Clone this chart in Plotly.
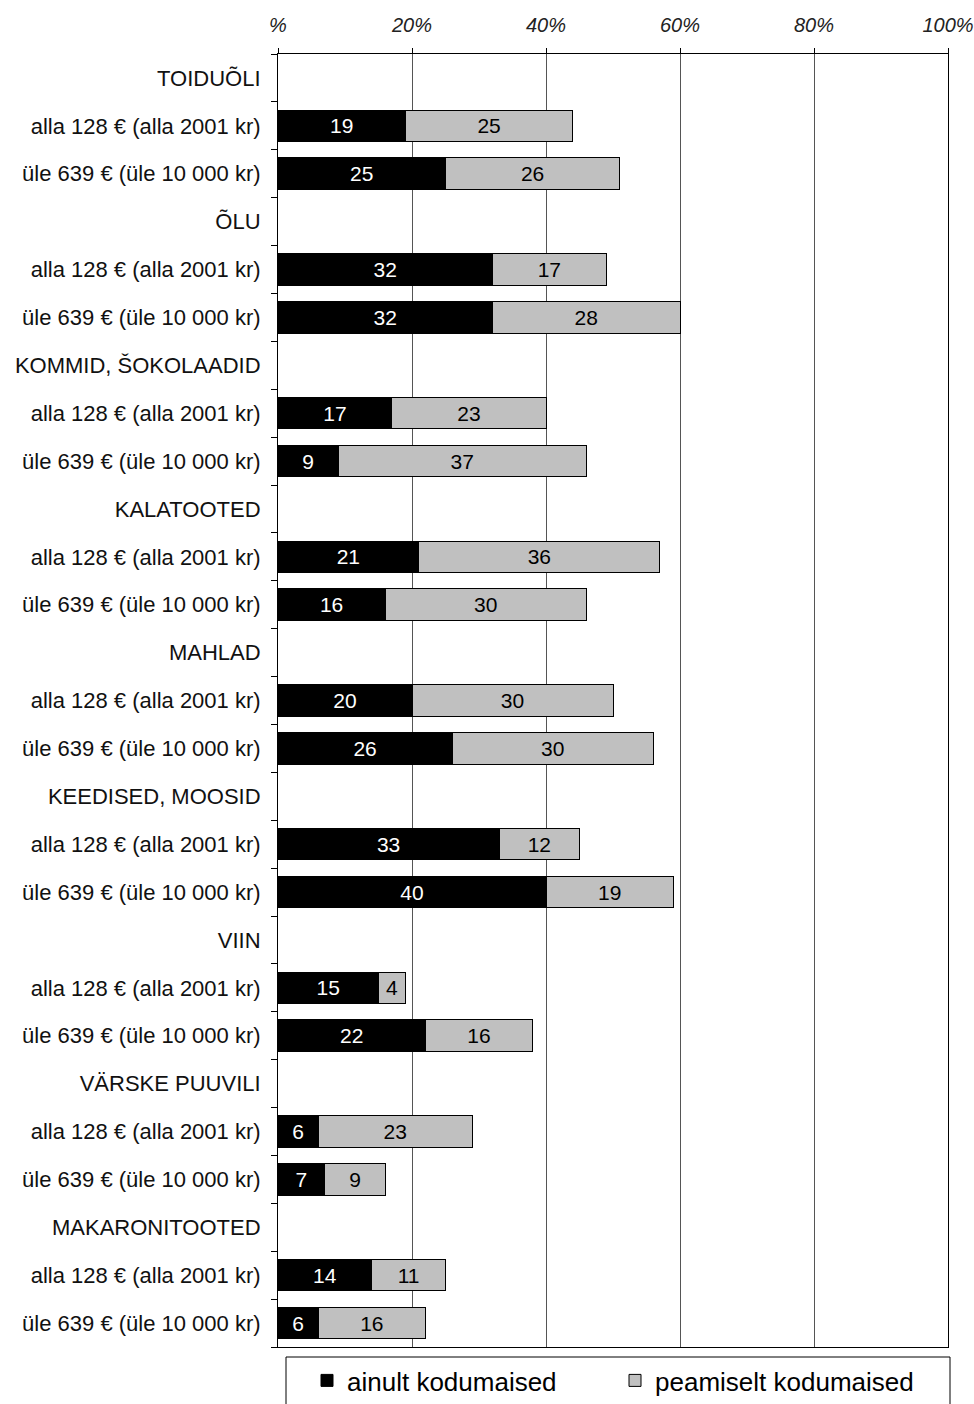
import plotly.graph_objects as go

groups = ["TOIDUÕLI", "ÕLU", "KOMMID, ŠOKOLAADID", "KALATOOTED", "MAHLAD",
          "KEEDISED, MOOSID", "VIIN", "VÄRSKE PUUVILI", "MAKARONITOOTED"]
sub_labels = ["alla 128 € (alla 2001 kr)", "üle 639 € (üle 10 000 kr)"]

# values per group: [low income, high income]
ainult = [[19, 25], [32, 32], [17, 9], [21, 16], [20, 26], [33, 40], [15, 22], [6, 7], [14, 6]]
peamiselt = [[25, 26], [17, 28], [23, 37], [36, 30], [30, 30], [12, 19], [4, 16], [23, 9], [11, 16]]

series_names = ["ainult kodumaised", "peamiselt kodumaised"]
tick_vals_x = [0, 20, 40, 60, 80, 100]
tick_text_x = ["%", "20%", "40%", "60%", "80%", "100%"]

labels, a_vals, p_vals = [], [], []
for g, a, p in zip(groups, ainult, peamiselt):
    labels.append(g); a_vals.append(None); p_vals.append(None)
    for s, av, pv in zip(sub_labels, a, p):
        labels.append(s); a_vals.append(av); p_vals.append(pv)

ypos = list(range(len(labels)))
FONT = "Liberation Sans, Arial, sans-serif"

fig = go.Figure()
fig.add_trace(go.Bar(
    y=ypos, x=a_vals, orientation="h", name=series_names[0],
    marker=dict(color="#000000", line=dict(color="#000000", width=1)),
    text=[str(v) if v is not None else "" for v in a_vals],
    textposition="inside", insidetextanchor="middle", textangle=0,
    textfont=dict(color="white", size=21, family=FONT),
    width=0.66, hoverinfo="skip"))
fig.add_trace(go.Bar(
    y=ypos, x=p_vals, orientation="h", name=series_names[1],
    marker=dict(color="#c0c0c0", line=dict(color="#000000", width=1)),
    text=[str(v) if v is not None else "" for v in p_vals],
    textposition="inside", insidetextanchor="middle", textangle=0,
    textfont=dict(color="black", size=21, family=FONT),
    width=0.66, hoverinfo="skip"))

W, H = 974, 1404
ML, MR, MT, MB = 278, 26, 54, 57
plot_w, plot_h = W - ML - MR, H - MT - MB

# frame around the legend (legend itself drawn without border)
fig.add_shape(type="rect", xref="paper", yref="paper",
              x0=8 / plot_w, x1=1 + 2 / plot_w,
              y0=-(MB + 20) / plot_h, y1=-10 / plot_h,
              line=dict(color="black", width=1), fillcolor="rgba(0,0,0,0)")

fig.update_layout(
    width=W, height=H, autosize=False,
    margin=dict(l=ML, r=MR, t=MT, b=MB, autoexpand=False),
    barmode="stack",
    plot_bgcolor="white", paper_bgcolor="white",
    font=dict(family=FONT, color="black", size=20),
    xaxis=dict(side="top", range=[0, 100], tickvals=tick_vals_x, ticktext=tick_text_x,
               tickfont=dict(size=20, style="italic", color="#222"),
               showgrid=True, gridcolor="#555555", gridwidth=1,
               ticks="outside", ticklen=5, tickcolor="black", ticklabelstandoff=8,
               ticklabeloverflow="allow",
               showline=True, linecolor="black", linewidth=1, mirror=True,
               zeroline=False, automargin=False),
    yaxis=dict(range=[len(labels) - 0.5, -0.5], tickvals=ypos, ticktext=labels,
               tickfont=dict(size=22, color="#111"),
               ticks="", showline=True, linecolor="black", linewidth=1, mirror=True,
               showgrid=False, zeroline=False, ticklabelstandoff=12, automargin=False,
               minor=dict(ticks="outside", tick0=0.5, dtick=1, ticklen=6,
                          tickcolor="black", showgrid=False)),
    legend=dict(orientation="h", x=29 / plot_w, y=-10 / plot_h, xanchor="left", yanchor="top",
                borderwidth=0, bgcolor="rgba(0,0,0,0)",
                traceorder="normal", itemwidth=30,
                font=dict(size=26, family=FONT), entrywidth=263,
                itemclick=False),
)

fig.write_html("out.html", config={"displayModeBar": False},
               post_script="document.body.style.margin='0';document.body.style.overflow='hidden';")
